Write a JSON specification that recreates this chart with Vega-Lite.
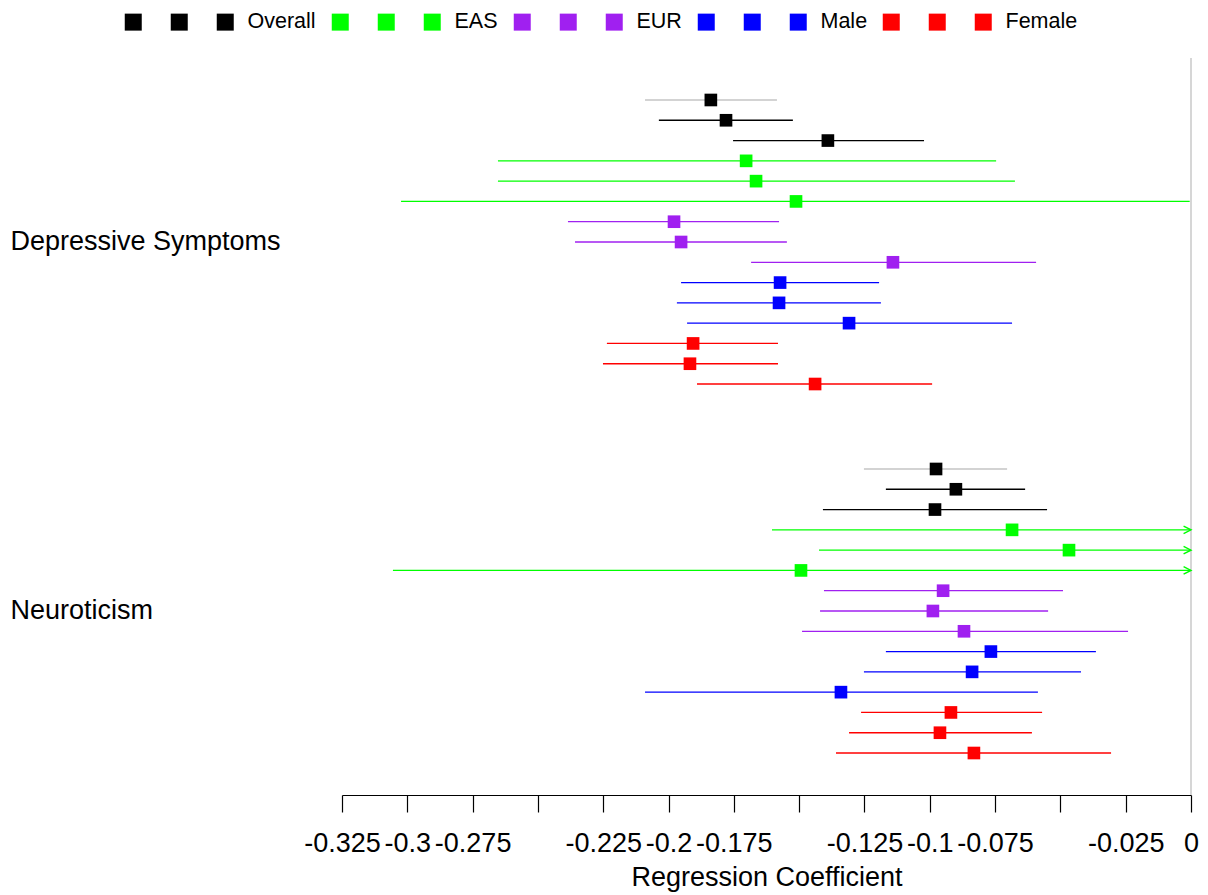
{
  "$schema": "https://vega.github.io/schema/vega-lite/v6.json",
  "autosize": {"type": "none"},
  "padding": {"left": 342, "top": 58, "right": 17, "bottom": 100},
  "width": 849,
  "height": 737,
  "config": {
    "font": "Liberation Sans",
    "view": {"stroke": null},
    "axis": {"grid": false}
  },
  "resolve": {"legend": {"color": "independent"}},
  "data": {
    "values": [
      {"outcome": "Depressive Symptoms", "series": "Overall, model 1", "beta": -0.1838, "lo": -0.209, "hi": -0.1585},
      {"outcome": "Depressive Symptoms", "series": "Overall, model 2", "beta": -0.178, "lo": -0.2037, "hi": -0.1524},
      {"outcome": "Depressive Symptoms", "series": "Overall, model 3", "beta": -0.139, "lo": -0.1753, "hi": -0.1022},
      {"outcome": "Depressive Symptoms", "series": "EAS, model 1", "beta": -0.1703, "lo": -0.2653, "hi": -0.0746},
      {"outcome": "Depressive Symptoms", "series": "EAS, model 2", "beta": -0.1665, "lo": -0.2653, "hi": -0.0674},
      {"outcome": "Depressive Symptoms", "series": "EAS, model 3", "beta": -0.1512, "lo": -0.3024, "hi": -0.0005},
      {"outcome": "Depressive Symptoms", "series": "EUR, model 1", "beta": -0.1979, "lo": -0.2385, "hi": -0.1577},
      {"outcome": "Depressive Symptoms", "series": "EUR, model 2", "beta": -0.1952, "lo": -0.2358, "hi": -0.1547},
      {"outcome": "Depressive Symptoms", "series": "EUR, model 3", "beta": -0.1141, "lo": -0.1684, "hi": -0.0593},
      {"outcome": "Depressive Symptoms", "series": "Male, model 1", "beta": -0.1573, "lo": -0.1952, "hi": -0.1194},
      {"outcome": "Depressive Symptoms", "series": "Male, model 2", "beta": -0.1577, "lo": -0.1968, "hi": -0.1187},
      {"outcome": "Depressive Symptoms", "series": "Male, model 3", "beta": -0.1309, "lo": -0.1929, "hi": -0.0685},
      {"outcome": "Depressive Symptoms", "series": "Female, model 1", "beta": -0.1906, "lo": -0.2236, "hi": -0.1581},
      {"outcome": "Depressive Symptoms", "series": "Female, model 2", "beta": -0.1918, "lo": -0.2251, "hi": -0.1581},
      {"outcome": "Depressive Symptoms", "series": "Female, model 3", "beta": -0.1439, "lo": -0.1891, "hi": -0.0991},
      {"outcome": "Neuroticism", "series": "Overall, model 1", "beta": -0.0976, "lo": -0.1252, "hi": -0.0704},
      {"outcome": "Neuroticism", "series": "Overall, model 2", "beta": -0.09, "lo": -0.1168, "hi": -0.0635},
      {"outcome": "Neuroticism", "series": "Overall, model 3", "beta": -0.098, "lo": -0.1409, "hi": -0.0551},
      {"outcome": "Neuroticism", "series": "EAS, model 1", "beta": -0.0685, "lo": -0.1604, "hi": 0.0234},
      {"outcome": "Neuroticism", "series": "EAS, model 2", "beta": -0.0467, "lo": -0.1424, "hi": 0.049},
      {"outcome": "Neuroticism", "series": "EAS, model 3", "beta": -0.1493, "lo": -0.3055, "hi": 0.007},
      {"outcome": "Neuroticism", "series": "EUR, model 1", "beta": -0.0949, "lo": -0.1405, "hi": -0.049},
      {"outcome": "Neuroticism", "series": "EUR, model 2", "beta": -0.0988, "lo": -0.142, "hi": -0.0547},
      {"outcome": "Neuroticism", "series": "EUR, model 3", "beta": -0.0869, "lo": -0.1489, "hi": -0.0241},
      {"outcome": "Neuroticism", "series": "Male, model 1", "beta": -0.0766, "lo": -0.1168, "hi": -0.0364},
      {"outcome": "Neuroticism", "series": "Male, model 2", "beta": -0.0838, "lo": -0.1252, "hi": -0.0421},
      {"outcome": "Neuroticism", "series": "Male, model 3", "beta": -0.134, "lo": -0.209, "hi": -0.0586},
      {"outcome": "Neuroticism", "series": "Female, model 1", "beta": -0.0919, "lo": -0.1263, "hi": -0.057},
      {"outcome": "Neuroticism", "series": "Female, model 2", "beta": -0.0961, "lo": -0.1309, "hi": -0.0609},
      {"outcome": "Neuroticism", "series": "Female, model 3", "beta": -0.0831, "lo": -0.1359, "hi": -0.0306}
    ]
  },
  "layer": [
    {
      "data": {"values": [{"ref": 0}]},
      "mark": {"type": "rule", "color": "#d6d6d6", "strokeWidth": 2},
      "encoding": {
        "x": {"field": "ref", "type": "quantitative", "scale": {"domain": [-0.325, 0], "clamp": true, "nice": false, "zero": false}}
      }
    },
    {
      "mark": {"type": "rule", "strokeWidth": 1.3},
      "encoding": {
        "x": {"field": "lo", "type": "quantitative",
          "scale": {"domain": [-0.325, 0], "clamp": true, "nice": false, "zero": false},
          "axis": {
            "title": "Regression Coefficient",
            "values": [-0.325, -0.3, -0.275, -0.25, -0.225, -0.2, -0.175, -0.15, -0.125, -0.1, -0.075, -0.05, -0.025, 0],
            "labelExpr": "indexof([-0.25, -0.15, -0.05], datum.value) >= 0 ? '' : toString(datum.value)",
            "labelOverlap": false,
            "labelFlush": false,
            "labelFontSize": 27,
            "labelColor": "#000000",
            "labelPadding": 18,
            "tickSize": 17,
            "tickColor": "#000000",
            "tickWidth": 1.2,
            "domainColor": "#000000",
            "domainWidth": 1.2,
            "titleFontSize": 27,
            "titleFontWeight": "normal",
            "titleColor": "#000000",
            "titlePadding": 8
          }
        },
        "x2": {"field": "hi"},
        "y": {"field": "outcome", "type": "nominal",
          "scale": {"domain": ["Depressive Symptoms", "Neuroticism"], "paddingInner": 0.1203, "paddingOuter": 0.0588},
          "axis": {"title": null, "domain": false, "ticks": false, "labelAlign": "left", "labelBaseline": "middle", "labelPadding": 332, "labelFontSize": 27, "labelColor": "#000000", "labelLimit": 400}
        },
        "yOffset": {"field": "series", "type": "nominal",
          "scale": {"domain": ["Overall, model 1", "Overall, model 2", "Overall, model 3", "EAS, model 1", "EAS, model 2", "EAS, model 3", "EUR, model 1", "EUR, model 2", "EUR, model 3", "Male, model 1", "Male, model 2", "Male, model 3", "Female, model 1", "Female, model 2", "Female, model 3"], "paddingInner": 0, "paddingOuter": 0.5}
        },
        "color": {
          "field": "series", "type": "nominal",
          "condition": {"test": "datum.series === 'Overall, model 1'", "value": "#c4c4c4"},
          "scale": {
            "domain": ["Overall, model 1", "Overall, model 2", "Overall, model 3", "EAS, model 1", "EAS, model 2", "EAS, model 3", "EUR, model 1", "EUR, model 2", "EUR, model 3", "Male, model 1", "Male, model 2", "Male, model 3", "Female, model 1", "Female, model 2", "Female, model 3"],
            "range": ["#000000", "#000000", "#000000", "#00FF00", "#00FF00", "#00FF00", "#A020F0", "#A020F0", "#A020F0", "#0000FF", "#0000FF", "#0000FF", "#FF0000", "#FF0000", "#FF0000"]
          },
          "legend": null
        }
      }
    },
    {
      "mark": {"type": "point", "shape": "square", "filled": true, "opacity": 1, "size": 160},
      "encoding": {
        "x": {"field": "beta", "type": "quantitative"},
        "y": {"field": "outcome", "type": "nominal"},
        "yOffset": {"field": "series", "type": "nominal"},
        "color": {
          "field": "series", "type": "nominal",
          "legend": {
            "orient": "none",
            "direction": "horizontal",
            "legendX": -219.5,
            "legendY": -47,
            "title": null,
            "symbolType": "square",
            "symbolSize": 289,
            "symbolStrokeWidth": 0,
            "symbolOpacity": 1,
            "labelFontSize": 21.5,
            "labelColor": "#000000",
            "labelOffset": 11.5,
            "columnPadding": 13,
            "labelLimit": 200,
            "padding": 0,
            "labelExpr": "indexof(datum.label, 'model 3') > 0 ? split(datum.label, ',')[0] : ''"
          }
        }
      }
    },
    {
      "transform": [{"filter": "datum.hi > 0"}],
      "mark": {"type": "point", "shape": "M-2,-1L0,0L-2,1", "filled": false, "opacity": 1, "size": 55, "strokeWidth": 1.4},
      "encoding": {
        "x": {"field": "hi", "type": "quantitative"},
        "y": {"field": "outcome", "type": "nominal"},
        "yOffset": {"field": "series", "type": "nominal"},
        "color": {"field": "series", "type": "nominal", "legend": null}
      }
    }
  ]
}
